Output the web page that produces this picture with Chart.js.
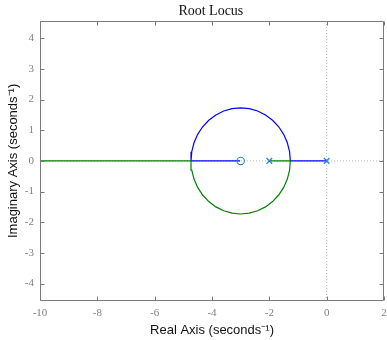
<!DOCTYPE html>
<html><head><meta charset="utf-8">
<script src="https://cdn.jsdelivr.net/npm/chart.js@4"></script>
<style>html,body{margin:0;padding:0;background:#fff}</style>
</head><body>
<canvas id="c" width="387" height="340"></canvas>
<script>
// Axis ticks and ranges
const xTicks = [-10, -8, -6, -4, -2, 0, 2];
const yTicks = [-4, -3, -2, -1, 0, 1, 2, 3, 4];
const xRange = [-10, 2];
const yRange = [-4.57, 4.57];

// Open-loop poles and zeros
const poleRe = [0, -2];
const poleIm = [0, 0];
const zeroRe = [-3];
const zeroIm = [0];

// Branch 1 (blue): pole 0 -> breakaway -> upper arc -> break-in -> zero -3
const branch1Re = [0, -1.268, -1.294, -1.372, -1.5, -1.673, -1.887, -2.134, -2.408, -2.699, -3.0, -3.301, -3.592, -3.866, -4.113, -4.327, -4.5, -4.628, -4.706, -4.732, -3.02];
const branch1Im = [0, 0, 0.301, 0.592, 0.866, 1.113, 1.327, 1.5, 1.628, 1.706, 1.732, 1.706, 1.628, 1.5, 1.327, 1.113, 0.866, 0.592, 0.301, 0, 0];

// Branch 2 (green): pole -2 -> breakaway -> lower arc -> break-in -> -inf
const branch2Re = [-2, -1.268, -1.294, -1.372, -1.5, -1.673, -1.887, -2.134, -2.408, -2.699, -3.0, -3.301, -3.592, -3.866, -4.113, -4.327, -4.5, -4.628, -4.706, -4.732, -10];
const branch2Im = [0, 0, -0.301, -0.592, -0.866, -1.113, -1.327, -1.5, -1.628, -1.706, -1.732, -1.706, -1.628, -1.5, -1.327, -1.113, -0.866, -0.592, -0.301, 0, 0];

const pts = (re, im) => re.map((v, i) => ({x: v, y: im[i]}));

// Keep the plot box's right edge 3px from the canvas edge (the "2" label may overhang)
const rightEdgePlugin = {
  id: 'rightEdge',
  afterLayout(chart) {
    const want = chart.width - 3;
    const x = chart.scales.x;
    chart.chartArea.right = want;
    chart.chartArea.width = want - chart.chartArea.left;
    x.right = want;
    x.width = want - x.left;
    x.configure();
  }
};

const framePlugin = {
  id: 'frame',
  afterDatasetsDraw(chart) {
    const {ctx, chartArea: a, scales: {x, y}} = chart;
    const L = Math.round(a.left) + 0.5, R = Math.round(a.right) - 0.5;
    const T = Math.round(a.top) + 0.5, B = Math.round(a.bottom) - 0.5;
    ctx.save();
    ctx.strokeStyle = '#7a7a7a';
    ctx.lineWidth = 1;
    ctx.beginPath();
    ctx.rect(L, T, R - L, B - T);
    const tl = 4;
    x.ticks.forEach(t => {
      const px = Math.round(x.getPixelForValue(t.value)) + 0.5;
      ctx.moveTo(px, B); ctx.lineTo(px, B - tl);
      ctx.moveTo(px, T); ctx.lineTo(px, T + tl);
    });
    y.ticks.forEach(t => {
      const py = Math.round(y.getPixelForValue(t.value)) + 0.5;
      ctx.moveTo(L, py); ctx.lineTo(L + tl, py);
      ctx.moveTo(R, py); ctx.lineTo(R - tl, py);
    });
    ctx.stroke();
    ctx.restore();
  }
};

const markerColor = '#2a86cc';

new Chart(document.getElementById('c'), {
  type: 'scatter',
  data: {
    datasets: [
      {
        data: [{x: xRange[0], y: 0}, {x: xRange[1], y: 0}],
        showLine: true, borderColor: '#b4b4b4', borderWidth: 1, borderDash: [1, 2],
        pointRadius: 0, order: 20
      },
      {
        data: [{x: 0, y: yRange[0]}, {x: 0, y: yRange[1]}],
        showLine: true, borderColor: '#b4b4b4', borderWidth: 1, borderDash: [1, 2],
        pointRadius: 0, order: 19
      },
      {
        data: pts(branch1Re, branch1Im),
        showLine: true, borderColor: '#0000ff', borderWidth: 1.2,
        pointRadius: 0, order: 6
      },
      {
        data: pts(branch2Re, branch2Im),
        showLine: true, borderColor: '#008000', borderWidth: 1.2,
        pointRadius: 0, order: 5
      },
      {
        data: pts(poleRe, poleIm),
        pointStyle: 'crossRot', pointRadius: 4, borderColor: markerColor,
        backgroundColor: markerColor, pointBorderWidth: 1.3, order: 1
      },
      {
        data: pts(zeroRe, zeroIm),
        pointStyle: 'circle', pointRadius: 3.7, borderColor: markerColor,
        backgroundColor: 'rgba(0,0,0,0)', pointBorderWidth: 1.1, order: 1
      }
    ]
  },
  options: {
    responsive: false,
    animation: false,
    devicePixelRatio: 1,
    layout: {padding: {left: 0, right: 0, top: 0, bottom: 0}},
    plugins: {
      legend: {display: false},
      tooltip: {enabled: false},
      title: {
        display: true, text: 'Root Locus', fullSize: false,
        color: '#111',
        font: {family: 'Liberation Serif', size: 14, weight: 'normal'},
        padding: {top: 3, bottom: 1}
      }
    },
    scales: {
      x: {
        type: 'linear', min: xRange[0], max: xRange[1],
        afterBuildTicks: s => { s.ticks = xTicks.map(v => ({value: v})); },
        afterFit: s => { s.height = 39; s.paddingLeft = 0; s.paddingRight = 0; },
        grid: {display: false, drawTicks: false},
        border: {display: false},
        ticks: {color: '#808080', padding: 6, maxRotation: 0,
                font: {family: 'Liberation Serif', size: 11}},
        title: {display: true, text: 'Real Axis (seconds\u207B\u00B9)', color: '#111',
                font: {family: 'Liberation Sans', size: 13}, padding: {top: 0, bottom: 2}}
      },
      y: {
        type: 'linear', min: yRange[0], max: yRange[1],
        afterBuildTicks: s => { s.ticks = yTicks.map(v => ({value: v})); },
        afterFit: s => { s.width = 40; s.paddingTop = 0; s.paddingBottom = 0; },
        grid: {display: false, drawTicks: false},
        border: {display: false},
        ticks: {color: '#808080', padding: 6,
                font: {family: 'Liberation Serif', size: 11}},
        title: {display: true, text: 'Imaginary Axis (seconds\u207B\u00B9)', color: '#111',
                font: {family: 'Liberation Sans', size: 13}, padding: {top: 6, bottom: 0}}
      }
    }
  },
  plugins: [rightEdgePlugin, framePlugin]
});
</script>
</body></html>
